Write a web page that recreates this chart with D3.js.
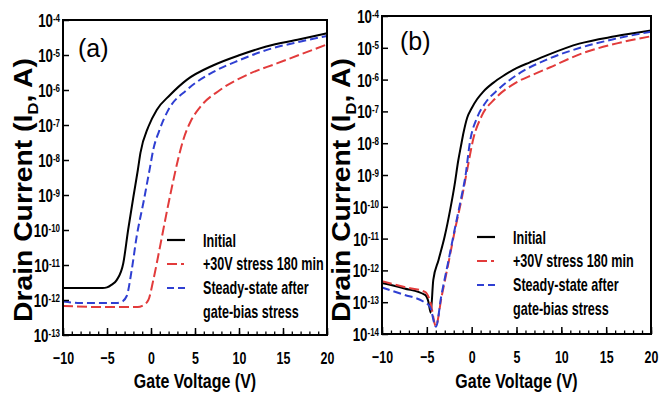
<!DOCTYPE html>
<html>
<head>
<meta charset="utf-8">
<script src="https://cdn.jsdelivr.net/npm/d3@7/dist/d3.min.js"></script>
<style>
  body { margin: 0; background: #fff; }
  svg text { font-family: "Liberation Sans", Arial, sans-serif; font-weight: bold; fill: #000; }
</style>
</head>
<body>
<svg id="fig" width="668" height="394"></svg>
<script>
// gate voltage ticks and current decades
const xTicks = [-10, -5, 0, 5, 10, 15, 20]
const aDecades = [-13, -12, -11, -10, -9, -8, -7, -6, -5, -4]
const bDecades = [-14, -13, -12, -11, -10, -9, -8, -7, -6, -5, -4]
const legendLabels = ['Initial', '+30V stress 180 min', 'Steady-state after', 'gate-bias stress']

// (a) transfer curves, [Vg (V), Id (A)]
const aInitial = [[-10, 2.2e-12], [-5.5, 2.2e-12], [-5.0, 2.3e-12], [-4.5, 2.7e-12], [-3.9, 3.7e-12],
  [-3.15, 1.12e-11], [-2.6, 1e-10], [-2.0, 8.9e-10], [-1.5, 5.1e-9], [-1.2, 1.6e-8], [-0.3, 8.9e-8],
  [0.65, 2.7e-7], [2.16, 7.2e-7], [4.06, 1.95e-6], [7.1, 5.1e-6], [10.1, 1e-5], [13.1, 1.74e-5],
  [16.9, 2.8e-5], [20, 4.2e-5]]
const aStress = [[-10, 6.8e-13], [-6, 6.3e-13], [-1.5, 6.3e-13], [-1.0, 6.8e-13], [-0.3, 1e-12],
  [0.26, 3.7e-12], [1.02, 3.3e-11], [1.7, 2.5e-10], [2.4, 1.8e-9], [3.1, 1.1e-8], [3.7, 4e-8],
  [4.5, 1.26e-7], [5.6, 3.3e-7], [7.84, 1e-6], [10.9, 2.7e-6], [14.3, 5.75e-6], [20, 2e-5]]
const aSteady = [[-10, 9e-13], [-8, 8.2e-13], [-4, 8.2e-13], [-3.3, 9e-13], [-2.76, 1.3e-12],
  [-2.2, 7e-12], [-1.63, 6.5e-11], [-0.85, 6.3e-10], [-0.15, 5.5e-9], [0.3, 2.2e-8],
  [0.9, 6.5e-8], [1.97, 2.7e-7], [4.06, 1e-6], [7.1, 3.3e-6], [10.1, 7.2e-6], [13.1, 1.38e-5],
  [16.9, 2.4e-5], [20, 3.5e-5]]

// (b) transfer curves, [Vg (V), Id (A)]
const bInitial = [[-10, 4e-13], [-7.5, 2.7e-13], [-5.2, 1.7e-13], [-4.83, 1.05e-13], [-4.57, 4.7e-14],
  [-4.28, 5e-13], [-3.7, 2.1e-12], [-3.0, 1.2e-11], [-2.4, 8e-11], [-1.9, 5e-10], [-1.5, 2.8e-9],
  [-1.2, 8e-9], [-0.9, 2.2e-8], [-0.5, 6.3e-8], [0.0, 1.26e-7], [0.6, 2.4e-7],
  [1.3, 4.2e-7], [2.4, 7.9e-7], [3.5, 1.3e-6], [5.0, 2.3e-6], [6.5, 3.5e-6], [8.5, 6e-6],
  [12, 1.35e-5], [16, 2.3e-5], [20, 3.5e-5]]
const bStress = [[-10, 4.6e-13], [-7.5, 3e-13], [-5.2, 2.1e-13], [-4.6, 1e-13], [-4.0, 1.8e-14],
  [-3.35, 1.5e-13], [-2.6, 1.65e-12], [-1.86, 1.9e-11], [-1.11, 1.8e-10], [-0.5, 1.45e-9],
  [0.19, 1.4e-8], [1.12, 7.2e-8], [2.6, 2.5e-7], [4.9, 7.9e-7], [6.9, 1.45e-6], [8.7, 2.4e-6],
  [12.4, 6.8e-6], [16.2, 1.38e-5], [20, 2.3e-5]]
const bSteady = [[-10, 2.9e-13], [-7.5, 1.7e-13], [-5.4, 1.05e-13], [-4.65, 7.2e-14], [-3.98, 1.7e-14],
  [-3.4, 1.5e-13], [-2.65, 1.65e-12], [-1.9, 1.9e-11], [-1.15, 2e-10], [-0.7, 9e-10],
  [-0.19, 1.1e-8], [0.6, 6.3e-8], [1.5, 1.8e-7], [3.0, 5e-7], [5.2, 1.5e-6], [8.5, 4.4e-6],
  [12.1, 1e-5], [15.8, 1.86e-5], [20, 3.2e-5]]

const styles = [
  {color: '#000', dash: null, legendDash: null},
  {color: '#e23b3b', dash: '10,4', legendDash: '10,4,3,4'},
  {color: '#2f3fd2', dash: '8,4', legendDash: '7,4'},
]

const panels = [
  {label: '(a)', left: 63, right: 327, top: 20, bottom: 335, decades: aDecades,
    series: [aInitial, aStress, aSteady], legX: 167, legY: 240, labX: 78, labY: 57, titleX: 32},
  {label: '(b)', left: 382, right: 651, top: 16, bottom: 334, decades: bDecades,
    series: [bInitial, bStress, bSteady], legX: 477, legY: 237, labX: 400, labY: 50, titleX: 350},
]

// the figure uses a condensed face; squeeze Liberation Sans horizontally
const squeeze = (sel, x, y, sx) => sel.attr('x', 0).attr('y', 0).attr('dy', null)
    .attr('transform', `translate(${x},${y}) scale(${sx},1)`)

const svg = d3.select('#fig')

panels.forEach((p) => {
  const x = d3.scaleLinear().domain([-10, 20]).range([p.left, p.right])
  const y = d3.scaleLog()
      .domain([Math.pow(10, d3.min(p.decades)), Math.pow(10, d3.max(p.decades))])
      .range([p.bottom, p.top])
  const g = svg.append('g')

  // curves
  const line = d3.line()
      .x((d) => x(d[0]))
      .y((d) => y(d[1]))
      .curve(d3.curveMonotoneX)
  p.series.forEach((s, i) => {
    g.append('path')
        .datum(s)
        .attr('d', line)
        .attr('fill', 'none')
        .attr('stroke', styles[i].color)
        .attr('stroke-width', 2)
        .attr('stroke-dasharray', styles[i].dash)
  })

  // minor x ticks, every volt
  g.append('g')
      .attr('transform', `translate(0,${p.bottom})`)
      .call(d3.axisBottom(x).tickValues(d3.range(-10, 21, 1)).tickSize(-3.5).tickFormat(''))
      .call((a) => a.select('.domain').remove())
      .selectAll('line').attr('stroke-width', 1.3)

  // major x ticks + labels
  const xAx = g.append('g')
      .attr('transform', `translate(0,${p.bottom})`)
      .call(d3.axisBottom(x).tickValues(xTicks).tickSize(-7).tickFormat(d3.format('d')))
      .call((a) => a.select('.domain').remove())
  xAx.selectAll('line').attr('stroke-width', 1.5)
  xAx.selectAll('text')
      .attr('font-size', 17)
      .attr('fill', '#000')
      .call(squeeze, 0, 28.5, 0.73)

  // y ticks + 10^n labels
  const yAx = g.append('g')
      .attr('transform', `translate(${p.left},0)`)
      .call(d3.axisLeft(y).tickValues(p.decades.map((e) => Math.pow(10, e))).tickSize(-6).tickFormat(''))
      .call((a) => a.select('.domain').remove())
  yAx.selectAll('line').attr('stroke-width', 1.5)
  yAx.selectAll('.tick').each(function(d) {
    const t = d3.select(this).append('text')
        .attr('text-anchor', 'end')
        .attr('font-size', 17.5)
        .call(squeeze, -3, 6.5, 0.76)
    t.append('tspan').text('10')
    t.append('tspan')
        .attr('font-size', 10.5)
        .attr('dy', -5.5)
        .text(Math.round(Math.log10(d)))
  })

  // frame
  g.append('rect')
      .attr('x', p.left).attr('y', p.top)
      .attr('width', p.right - p.left).attr('height', p.bottom - p.top)
      .attr('fill', 'none').attr('stroke', '#000').attr('stroke-width', 2)

  // panel tag
  g.append('text')
      .attr('x', p.labX).attr('y', p.labY)
      .attr('font-size', 25)
      .style('font-weight', 'normal')
      .text(p.label)

  // axis titles
  g.append('text')
      .attr('text-anchor', 'middle')
      .attr('font-size', 19.5)
      .text('Gate Voltage (V)')
      .call(squeeze, (p.left + p.right) / 2, 388, 0.82)

  const yt = g.append('text')
      .attr('text-anchor', 'middle')
      .attr('font-size', 25.5)
  yt.append('tspan').text('Drain Current (I')
  yt.append('tspan').attr('font-size', 15).attr('dy', 6).text('D')
  yt.append('tspan').attr('dy', -6).text(', A)')
  const len = yt.node().getComputedTextLength()
  yt.attr('transform', `translate(${p.titleX},190) rotate(-90) scale(${264 / len},1)`)

  // legend
  const leg = g.append('g')
  styles.forEach((s, i) => {
    const yy = p.legY + i * 24
    leg.append('line')
        .attr('x1', p.legX).attr('x2', p.legX + 18)
        .attr('y1', yy).attr('y2', yy)
        .attr('stroke', s.color).attr('stroke-width', 2.2)
        .attr('stroke-dasharray', s.legendDash)
  })
  legendLabels.forEach((t, i) => {
    leg.append('text')
        .attr('font-size', 17.5)
        .text(t)
        .call(squeeze, p.legX + 36, p.legY + i * 23.7 + 6.5, 0.72)
  })
})
</script>
</body>
</html>
